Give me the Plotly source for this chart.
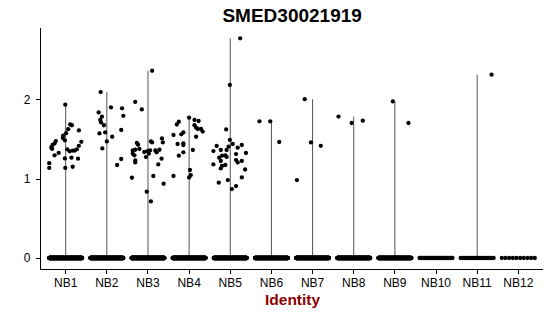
import numpy as np
import plotly.graph_objects as go

groups = ["NB1", "NB2", "NB3", "NB4", "NB5", "NB6", "NB7", "NB8", "NB9", "NB10", "NB11", "NB12"]

# non-zero expression values per identity and their horizontal jitter
nb1_expr = [1.94, 1.69, 1.68, 1.63, 1.615, 1.58, 1.55, 1.52, 1.49, 1.47, 1.48, 1.45, 1.43, 1.40, 1.38,
            1.42, 1.375, 1.375, 1.35, 1.36, 1.36, 1.33, 1.30, 1.26, 1.27, 1.257, 1.20, 1.14, 1.14, 1.155]
nb1_jit = [-0.01, 0.11, 0.15, 0.06, 0.32, 0.01, -0.06, -0.07, -0.02, 0.38, -0.24, -0.27, -0.32, -0.35, -0.33,
           0.32, 0.27, 0.04, 0.10, 0.17, 0.22, -0.17, -0.27, -0.02, 0.14, 0.30, -0.40, -0.40, -0.01, 0.17]

nb2_expr = [2.10, 1.906, 1.894, 1.843, 1.80, 1.789, 1.747, 1.716, 1.68, 1.62, 1.577, 1.59, 1.535, 1.476,
            1.387, 1.253, 1.177]
nb2_jit = [-0.15, 0.10, 0.37, -0.20, 0.40, -0.12, -0.16, -0.14, -0.07, 0.35, -0.18, -0.04, 0.13, 0.00,
           -0.11, 0.35, 0.25]

nb3_expr = [2.37, 1.975, 1.881, 1.514, 1.476, 1.463, 1.463, 1.456, 1.434, 1.362, 1.37, 1.38, 1.342, 1.354,
            1.362, 1.362, 1.37, 1.337, 1.32, 1.30, 1.32, 1.278, 1.235, 1.21, 1.257, 1.185, 1.016, 1.038,
            0.94, 0.839, 0.716]
nb3_jit = [0.10, -0.31, -0.15, 0.34, 0.07, 0.36, 0.10, -0.27, -0.24, -0.37, -0.31, -0.21, -0.09, -0.01,
           0.05, 0.18, 0.28, 0.21, -0.37, -0.33, 0.02, -0.05, -0.31, -0.31, 0.33, 0.25, -0.39, 0.13,
           0.38, -0.03, 0.07]

nb4_expr = [1.776, 1.747, 1.734, 1.725, 1.69, 1.68, 1.65, 1.633, 1.633, 1.60, 1.59, 1.565, 1.557, 1.535,
            1.45, 1.443, 1.43, 1.367, 1.337, 1.295, 1.114, 1.05, 1.038, 1.02]
nb4_jit = [0.00, 0.13, 0.23, -0.25, -0.30, 0.13, 0.17, 0.21, 0.29, 0.33, -0.14, -0.19, -0.38, 0.17,
           -0.14, -0.28, -0.14, 0.09, -0.14, -0.25, 0.02, 0.04, -0.38, 0.00]

nb5_expr = [2.78, 2.19, 1.628, 1.494, 1.443, 1.43, 1.418, 1.41, 1.396, 1.367, 1.367, 1.354, 1.329, 1.316,
            1.30, 1.295, 1.28, 1.27, 1.24, 1.228, 1.228, 1.21, 1.185, 1.177, 1.165, 1.134, 1.12, 1.02,
            0.987, 0.953, 0.911, 0.873]
nb5_jit = [0.24, -0.01, -0.10, -0.01, 0.06, 0.28, -0.33, -0.04, 0.18, -0.23, -0.09, -0.41, 0.38, 0.14,
           -0.12, -0.20, -0.09, -0.27, 0.14, 0.28, -0.23, 0.18, -0.41, -0.12, -0.20, -0.23, 0.36, 0.28,
           -0.06, -0.28, 0.14, 0.04]

nb6_expr = [1.73, 1.73, 1.468]
nb6_jit = [-0.29, -0.03, 0.19]
nb7_expr = [0.987, 2.01, 1.463, 1.42]
nb7_jit = [-0.38, -0.19, -0.04, 0.20]
nb8_expr = [1.79, 1.709, 1.738]
nb8_jit = [-0.37, -0.05, 0.22]
nb9_expr = [1.982, 1.709]
nb9_jit = [-0.05, 0.33]
nb10_expr = []
nb10_jit = []
nb11_expr = [2.32]
nb11_jit = [0.35]
nb12_expr = []
nb12_jit = []

# number of cells with zero expression per identity
zero_counts = [320, 320, 320, 320, 320, 260, 300, 300, 280, 28, 20, 10]

expr_lists = [nb1_expr, nb2_expr, nb3_expr, nb4_expr, nb5_expr, nb6_expr, nb7_expr, nb8_expr,
              nb9_expr, nb10_expr, nb11_expr, nb12_expr]
jit_lists = [nb1_jit, nb2_jit, nb3_jit, nb4_jit, nb5_jit, nb6_jit, nb7_jit, nb8_jit,
             nb9_jit, nb10_jit, nb11_jit, nb12_jit]

fig = go.Figure()

# violins (degenerate: drawn as thin vertical outlines from 0 to max)
for i, (g, vals) in enumerate(zip(groups, expr_lists)):
    if len(vals) == 0:
        continue
    xc = i + 1
    fig.add_trace(go.Scatter(x=[xc, xc], y=[0, max(vals)], mode="lines",
                             line=dict(color="#555555", width=1), hoverinfo="skip",
                             showlegend=False))

# points
xs, ys = [], []
for i, (vals, jit, nz) in enumerate(zip(expr_lists, jit_lists, zero_counts)):
    xc = i + 1
    offs = np.linspace(-0.4, 0.4, nz)
    xs.extend(xc + offs)
    ys.extend([0.0] * nz)
    xs.extend([xc + j for j in jit])
    ys.extend(vals)

fig.add_trace(go.Scatter(x=xs, y=ys, mode="markers",
                         marker=dict(color="black", size=4.3, line=dict(width=0)),
                         showlegend=False, hoverinfo="skip"))

font_family = "Liberation Sans, Arial, Helvetica, sans-serif"

fig.update_layout(
    width=550, height=316,
    margin=dict(l=41, r=7, t=28, b=47),
    plot_bgcolor="white", paper_bgcolor="white",
    font=dict(family=font_family, size=12, color="black"),
    title=dict(text="<b>SMED30021919</b>", x=0.5312, xanchor="center", xref="container",
               y=1 - 15 / 316, yanchor="middle", yref="container",
               font=dict(size=19, color="black", family=font_family)),
    xaxis=dict(range=[0.4, 12.6], tickmode="array", tickvals=list(range(1, 13)), ticktext=groups,
               showline=True, linecolor="black", linewidth=1.2, ticks="outside", ticklen=4,
               tickcolor="black", showgrid=False, zeroline=False, ticklabelstandoff=-2,
               tickfont=dict(size=12, color="black")),
    yaxis=dict(range=[-0.139, 2.911], tickmode="array", tickvals=[0, 1, 2], ticktext=["0", "1", "2"],
               showline=True, linecolor="black", linewidth=1.2, ticks="outside", ticklen=4,
               tickcolor="black", showgrid=False, zeroline=False, ticklabelstandoff=3,
               tickfont=dict(size=12, color="black")),
    annotations=[dict(text="<b>Identity</b>", x=0.5, xref="paper", y=-30 / 241, yref="paper",
                      xanchor="center", yanchor="middle", showarrow=False,
                      font=dict(size=15.5, color="#8B0000", family=font_family))],
)

fig.write_html("out.html")
